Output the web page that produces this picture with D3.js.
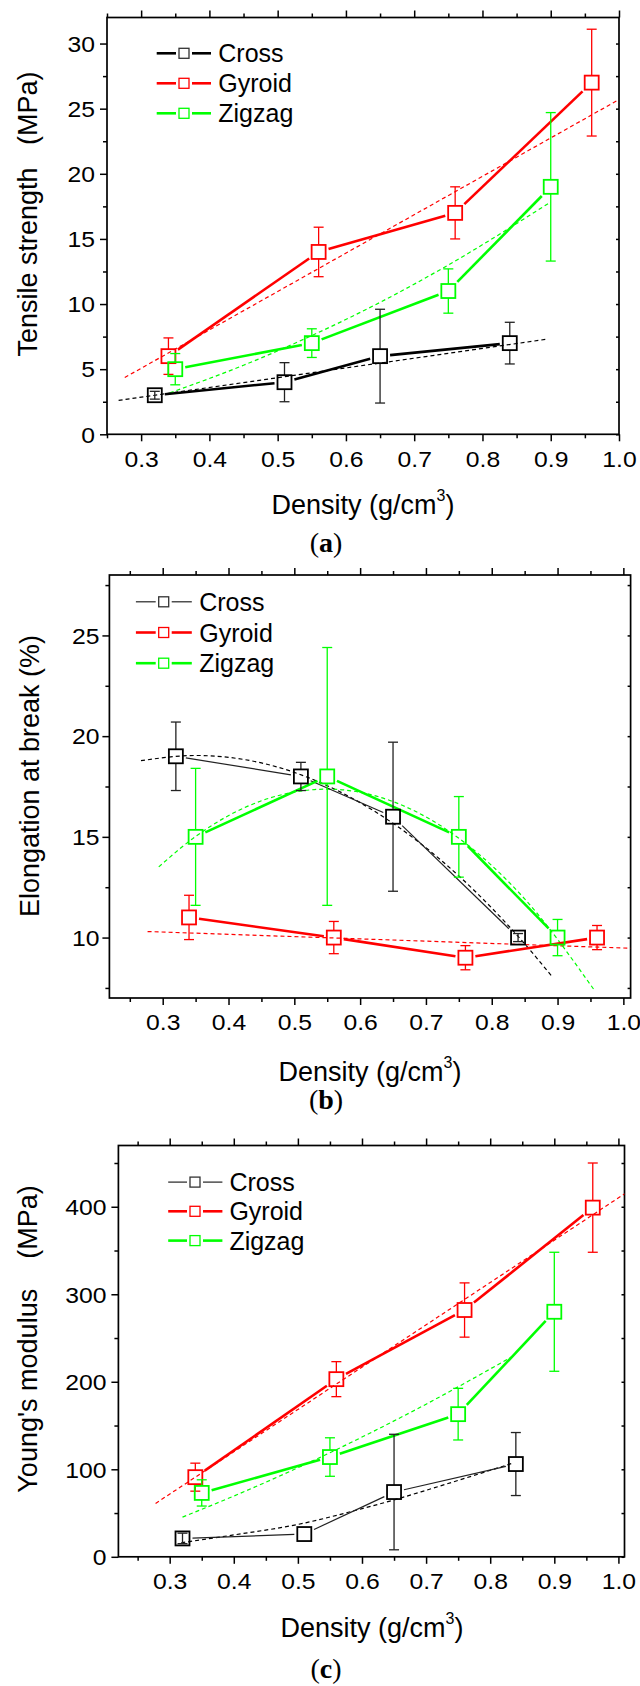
<!DOCTYPE html>
<html>
<head>
<meta charset="utf-8">
<script src="https://cdn.jsdelivr.net/npm/d3@7/dist/d3.min.js"></script>
<style>
  html, body { margin: 0; padding: 0; background: #fff; }
  svg { display: block; }
  text { font-family: "Liberation Sans", Arial, sans-serif; fill: #000; }
</style>
</head>
<body>
<svg id="chart" width="640" height="1686"></svg>
<script>
// ---------------- DATA ----------------
const seriesNames = ["Cross", "Gyroid", "Zigzag"];

const crossDensity  = [0.32, 0.51, 0.65, 0.84];
const gyroidDensity = [0.34, 0.56, 0.76, 0.96];
const zigzagDensity = [0.35, 0.55, 0.75, 0.90];

// (a) Tensile strength (MPa)
const tensileCross     = [3, 4, 6, 7];
const tensileCrossErr  = [0.3, 1.5, 3.6, 1.6];
const tensileGyroid    = [6, 14, 17, 27];
const tensileGyroidErr = [1.4, 1.9, 2.0, 4.1];
const tensileZigzag    = [5, 7, 11, 19];
const tensileZigzagErr = [1.2, 1.1, 1.7, 5.7];
const tensileCrossFitX  = [0.267, 0.893];
const tensileCrossFitY  = [2.6, 7.29];
const tensileGyroidFitX = [0.276, 1.0];
const tensileGyroidFitY = [4.36, 25.7];
const tensileZigzagFitX = [0.342, 0.45, 0.55, 0.65, 0.75, 0.90];
const tensileZigzagFitY = [3.18, 5.30, 7.58, 10.13, 13.0, 17.84];

// (b) Elongation at break (%)
const elongCross     = [19, 18, 16, 10];
const elongCrossErr  = [1.7, 0.7, 3.7, 0.2];
const elongGyroid    = [11, 10, 9, 10];
const elongGyroidErr = [1.1, 0.8, 0.6, 0.6];
const elongZigzag    = [15, 18, 15, 10];
const elongZigzagErr = [3.4, 6.4, 2.0, 0.9];
const elongCrossFitX  = [0.267, 0.35, 0.45, 0.55, 0.65, 0.75, 0.85, 0.892];
const elongCrossFitY  = [18.78, 19.04, 18.67, 17.54, 15.67, 13.06, 9.69, 8.05];
const elongGyroidFitX = [0.277, 1.011];
const elongGyroidFitY = [10.30, 9.47];
const elongZigzagFitX = [0.294, 0.35, 0.45, 0.55, 0.65, 0.75, 0.85, 0.955];
const elongZigzagFitY = [13.51, 15.02, 16.79, 17.37, 16.75, 14.93, 11.92, 7.43];

// (c) Young's modulus (MPa)
const modulusCross     = [21, 26, 74, 106];
const modulusCrossErr  = [6, 0, 66, 36];
const modulusGyroid    = [91, 203, 282, 399];
const modulusGyroidErr = [16, 20, 31, 51];
const modulusZigzag    = [73, 114, 163, 280];
const modulusZigzagErr = [15, 22, 29.5, 68];
const modulusCrossFitX  = [0.318, 0.4, 0.5, 0.6, 0.65, 0.7, 0.835];
const modulusCrossFitY  = [16, 25, 37, 55, 65, 76, 107];
const modulusGyroidFitX = [0.278, 1.01];
const modulusGyroidFitY = [61, 415];
const modulusZigzagFitX = [0.32, 0.4, 0.5, 0.6, 0.7, 0.838];
const modulusZigzagFitY = [45.4, 69.4, 101.8, 136.8, 174.4, 230.3];

// Ticks
const densityTicks      = [0.3, 0.4, 0.5, 0.6, 0.7, 0.8, 0.9, 1.0];
const densityTickLabels = ["0.3", "0.4", "0.5", "0.6", "0.7", "0.8", "0.9", "1.0"];
const densityMinorTicks = [0.25, 0.35, 0.45, 0.55, 0.65, 0.75, 0.85, 0.95];
const tensileTicks      = [0, 5, 10, 15, 20, 25, 30];
const tensileMinorTicks = [2.5, 7.5, 12.5, 17.5, 22.5, 27.5];
const elongTicks        = [10, 15, 20, 25];
const elongMinorTicks   = [7.5, 12.5, 17.5, 22.5, 27.5];
const modulusTicks      = [0, 100, 200, 300, 400];
const modulusMinorTicks = [50, 150, 250, 350, 450];

// ---------------- STYLE / LAYOUT ----------------
const colors = { Cross: "#000000", Gyroid: "#ff0000", Zigzag: "#00ff00" };
const zip = (xs, ys) => xs.map((x, i) => [x, ys[i]]);
const TICK_FONT = 21.5, TICK_SX = 1.15;

const panels = [
  {
    tag: "a", frame: { l: 107, r: 619, t: 17.5, b: 434.3 },
    xDomain: [0.25, 1.0], yDomain: [0, 32],
    yTicks: tensileTicks, yMinor: tensileMinorTicks,
    yTitle: "Tensile strength   (MPa)", yTitleX: 37, yTitleY: 214, yLabelGap: 12,
    xTitleX: 363, xTitleY: 514, tagY: 552,
    crossThin: false,
    legend: { x1: 156.7, x2: 211, sq: 184, tx: 218.3, rows: [53.3, 83.3, 113.3] },
    series: [
      { name: "Cross",  x: crossDensity,  y: tensileCross,  e: tensileCrossErr,  fit: zip(tensileCrossFitX, tensileCrossFitY) },
      { name: "Gyroid", x: gyroidDensity, y: tensileGyroid, e: tensileGyroidErr, fit: zip(tensileGyroidFitX, tensileGyroidFitY) },
      { name: "Zigzag", x: zigzagDensity, y: tensileZigzag, e: tensileZigzagErr, fit: zip(tensileZigzagFitX, tensileZigzagFitY) }
    ]
  },
  {
    tag: "b", frame: { l: 109.4, r: 630.6, t: 575, b: 998 },
    xDomain: [0.219, 1.011], yDomain: [7, 28],
    yTicks: elongTicks, yMinor: elongMinorTicks,
    yTitle: "Elongation at break (%)", yTitleX: 38.8, yTitleY: 776, yLabelGap: 10,
    xTitleX: 370, xTitleY: 1080.7, tagY: 1109,
    crossThin: true,
    legend: { x1: 135.9, x2: 191.8, sq: 163.7, tx: 199.2, rows: [601.8, 632.5, 663.2] },
    series: [
      { name: "Cross",  x: crossDensity,  y: elongCross,  e: elongCrossErr,  fit: zip(elongCrossFitX, elongCrossFitY) },
      { name: "Gyroid", x: gyroidDensity, y: elongGyroid, e: elongGyroidErr, fit: zip(elongGyroidFitX, elongGyroidFitY) },
      { name: "Zigzag", x: zigzagDensity, y: elongZigzag, e: elongZigzagErr, fit: zip(elongZigzagFitX, elongZigzagFitY) }
    ]
  },
  {
    tag: "c", frame: { l: 118.4, r: 624.5, t: 1145.5, b: 1556.8 },
    xDomain: [0.22, 1.0095], yDomain: [0, 470],
    yTicks: modulusTicks, yMinor: modulusMinorTicks,
    yTitle: "Young's modulus    (MPa)", yTitleX: 37, yTitleY: 1339, yLabelGap: 12,
    xTitleX: 372, xTitleY: 1637, tagY: 1678,
    crossThin: true,
    legend: { x1: 168.2, x2: 222.4, sq: 195, tx: 229.4, rows: [1182.1, 1211.3, 1240.6] },
    series: [
      { name: "Cross",  x: crossDensity,  y: modulusCross,  e: modulusCrossErr,  fit: zip(modulusCrossFitX, modulusCrossFitY) },
      { name: "Gyroid", x: gyroidDensity, y: modulusGyroid, e: modulusGyroidErr, fit: zip(modulusGyroidFitX, modulusGyroidFitY) },
      { name: "Zigzag", x: zigzagDensity, y: modulusZigzag, e: modulusZigzagErr, fit: zip(modulusZigzagFitX, modulusZigzagFitY) }
    ]
  }
];

const MARK = 14, HALF = 7, GAP = 3, CAP = 5;
const svg = d3.select("#chart");

panels.forEach((p, pi) => {
  const f = p.frame;
  const x = d3.scaleLinear().domain(p.xDomain).range([f.l, f.r]);
  const y = d3.scaleLinear().domain(p.yDomain).range([f.b, f.t]);
  const g = svg.append("g");

  const clipId = "clip" + pi;
  g.append("clipPath").attr("id", clipId).append("rect")
    .attr("x", f.l).attr("y", f.t).attr("width", f.r - f.l).attr("height", f.b - f.t);

  const tickStyle = sel => { sel.select(".domain").remove(); sel.selectAll("line").attr("stroke", "#000").attr("stroke-width", 1.5); };

  // bottom major with labels
  const bx = g.append("g").attr("transform", `translate(0,${f.b})`)
    .call(d3.axisBottom(x).tickValues(densityTicks).tickSize(7).tickPadding(9)
      .tickFormat((d, i) => densityTickLabels[i]));
  tickStyle(bx);
  bx.selectAll("text").attr("font-size", TICK_FONT).attr("font-family", "Liberation Sans, Arial, sans-serif")
    .attr("fill", "#000").attr("y", 0).attr("dy", 0)
    .attr("transform", `translate(0,32.4) scale(${TICK_SX},1)`);
  const bxm = g.append("g").attr("transform", `translate(0,${f.b})`)
    .call(d3.axisBottom(x).tickValues(densityMinorTicks).tickSize(4).tickFormat(""));
  tickStyle(bxm);
  // top
  const tx = g.append("g").attr("transform", `translate(0,${f.t})`)
    .call(d3.axisTop(x).tickValues(densityTicks).tickSize(7).tickFormat(""));
  tickStyle(tx);
  const txm = g.append("g").attr("transform", `translate(0,${f.t})`)
    .call(d3.axisTop(x).tickValues(densityMinorTicks).tickSize(4).tickFormat(""));
  tickStyle(txm);
  // left
  const ly = g.append("g").attr("transform", `translate(${f.l},0)`)
    .call(d3.axisLeft(y).tickValues(p.yTicks).tickSize(7).tickPadding(5).tickFormat(d3.format("d")));
  tickStyle(ly);
  ly.selectAll("text").attr("font-size", TICK_FONT).attr("font-family", "Liberation Sans, Arial, sans-serif")
    .attr("fill", "#000").attr("x", 0).attr("dy", "0.36em")
    .attr("transform", `translate(${-p.yLabelGap},0) scale(${TICK_SX},1)`);
  const lym = g.append("g").attr("transform", `translate(${f.l},0)`)
    .call(d3.axisLeft(y).tickValues(p.yMinor).tickSize(4).tickFormat(""));
  tickStyle(lym);
  // right (inward)
  const ry = g.append("g").attr("transform", `translate(${f.r},0)`)
    .call(d3.axisLeft(y).tickValues(p.yTicks.concat(p.yMinor)).tickSize(3).tickFormat(""));
  tickStyle(ry);

  // frame
  g.append("rect").attr("x", f.l).attr("y", f.t).attr("width", f.r - f.l).attr("height", f.b - f.t)
    .attr("fill", "none").attr("stroke", "#000").attr("stroke-width", 1.7);

  const plot = g.append("g").attr("clip-path", `url(#${clipId})`);

  // Fit curves (dashed)
  const fitLine = d3.line().x(d => x(d[0])).y(d => y(d[1])).curve(d3.curveMonotoneX);
  p.series.forEach(s => {
    plot.append("path").attr("d", fitLine(s.fit))
      .attr("fill", "none").attr("stroke", colors[s.name])
      .attr("stroke-width", 1.2).attr("stroke-dasharray", "4,3");
  });

  // Connecting lines with gaps at markers
  p.series.forEach(s => {
    const thin = (s.name === "Cross" && p.crossThin);
    const pts = s.x.map((v, i) => [x(v), y(s.y[i])]);
    for (let i = 0; i < pts.length - 1; i++) {
      const [x1, y1] = pts[i], [x2, y2] = pts[i + 1];
      const dx = x2 - x1, dy = y2 - y1, L = Math.hypot(dx, dy);
      const ux = dx / L, uy = dy / L;
      const t = HALF / Math.max(Math.abs(ux), Math.abs(uy)) + GAP;
      plot.append("line")
        .attr("x1", x1 + ux * t).attr("y1", y1 + uy * t)
        .attr("x2", x2 - ux * t).attr("y2", y2 - uy * t)
        .attr("stroke", thin ? "#222" : colors[s.name])
        .attr("stroke-width", thin ? 1.2 : 2.6);
    }
  });

  // Error bars and markers
  p.series.forEach(s => {
    const col = colors[s.name] === "#000000" ? "#222" : colors[s.name];
    s.x.forEach((v, i) => {
      const cx = x(v), cy = y(s.y[i]);
      if (s.e[i] > 0) {
        const yt = y(s.y[i] + s.e[i]), yb = y(s.y[i] - s.e[i]);
        const eb = g.append("g").attr("stroke", col).attr("stroke-width", 1.3);
        if (cy - yt > HALF) {
          eb.append("line").attr("x1", cx).attr("x2", cx).attr("y1", cy - HALF).attr("y2", yt);
          eb.append("line").attr("x1", cx).attr("x2", cx).attr("y1", cy + HALF).attr("y2", yb);
        } else {
          eb.append("line").attr("x1", cx).attr("x2", cx).attr("y1", yt).attr("y2", yb);
        }
        eb.append("line").attr("x1", cx - CAP).attr("x2", cx + CAP).attr("y1", yt).attr("y2", yt);
        eb.append("line").attr("x1", cx - CAP).attr("x2", cx + CAP).attr("y1", yb).attr("y2", yb);
      }
      g.append("rect").attr("x", cx - HALF).attr("y", cy - HALF).attr("width", MARK).attr("height", MARK)
        .attr("fill", "none").attr("stroke", colors[s.name]).attr("stroke-width", 1.8);
    });
  });

  // Legend
  const lg = p.legend;
  seriesNames.forEach((name, i) => {
    const ry0 = lg.rows[i];
    const thin = (name === "Cross" && p.crossThin);
    const lc = thin ? "#222" : colors[name];
    const lw = thin ? 1.2 : 2.6;
    g.append("line").attr("x1", lg.x1).attr("x2", lg.sq - 8).attr("y1", ry0).attr("y2", ry0)
      .attr("stroke", lc).attr("stroke-width", lw);
    g.append("line").attr("x1", lg.sq + 8).attr("x2", lg.x2).attr("y1", ry0).attr("y2", ry0)
      .attr("stroke", lc).attr("stroke-width", lw);
    g.append("rect").attr("x", lg.sq - 5).attr("y", ry0 - 5).attr("width", 10).attr("height", 10)
      .attr("fill", "none").attr("stroke", name === "Cross" ? "#333" : colors[name]).attr("stroke-width", 1.3);
    g.append("text").attr("x", lg.tx).attr("y", ry0 + 9).attr("font-size", 25).text(name);
  });

  // Y title
  g.append("text")
    .attr("transform", `translate(${p.yTitleX},${p.yTitleY}) rotate(-90)`)
    .attr("text-anchor", "middle").attr("font-size", 27)
    .attr("xml:space", "preserve")
    .style("white-space", "pre")
    .text(p.yTitle);

  // X title with superscript
  const xt = g.append("text").attr("x", p.xTitleX).attr("y", p.xTitleY)
    .attr("text-anchor", "middle").attr("font-size", 27);
  xt.append("tspan").text("Density (g/cm");
  xt.append("tspan").attr("font-size", 16).attr("dy", -13).text("3");
  xt.append("tspan").attr("dy", 13).text(")");

  // Panel tag
  const tg = g.append("text").attr("x", 326).attr("y", p.tagY).attr("text-anchor", "middle")
    .attr("font-size", 28).style("font-family", "'Liberation Serif', 'Times New Roman', serif");
  tg.append("tspan").text("(");
  tg.append("tspan").attr("font-weight", "bold").text(p.tag);
  tg.append("tspan").text(")");
});
</script>
</body>
</html>
